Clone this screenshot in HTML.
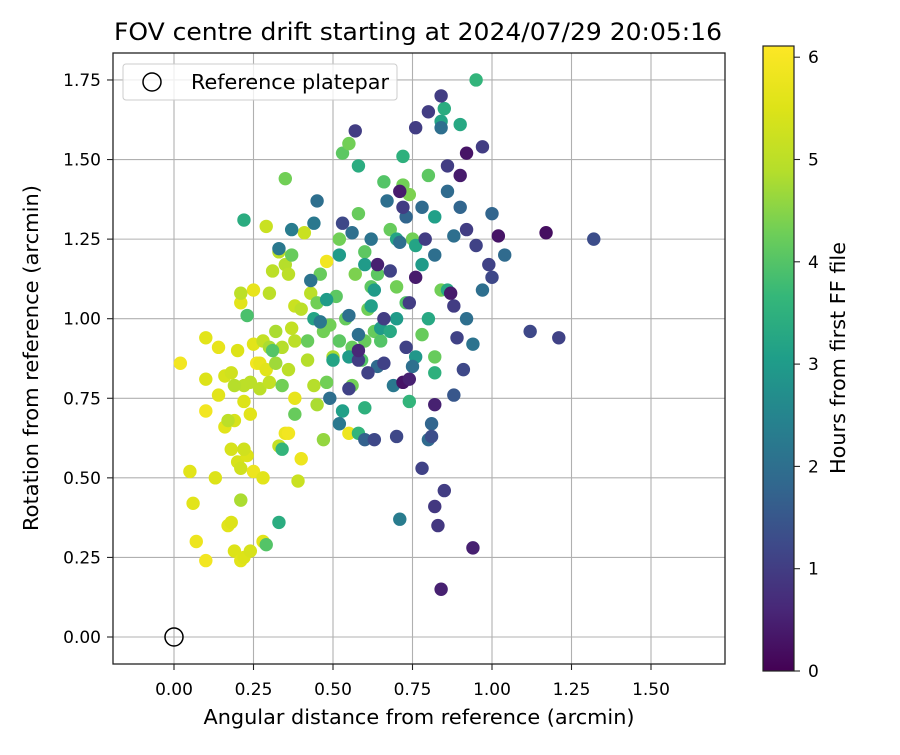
<!DOCTYPE html>
<html><head><meta charset="utf-8">
<style>
body{margin:0;background:#fff;}
svg text{font-family:"DejaVu Sans","Liberation Sans",sans-serif;fill:#000;}
</style></head>
<body>
<svg id="chart" width="900" height="750" viewBox="0 0 900 750" xmlns="http://www.w3.org/2000/svg">
<defs>
<linearGradient id="vir" x1="0" y1="1" x2="0" y2="0">
<stop offset="0" stop-color="#440154"/><stop offset="0.1" stop-color="#482878"/><stop offset="0.2" stop-color="#3e4989"/><stop offset="0.3" stop-color="#31688e"/><stop offset="0.4" stop-color="#26828e"/><stop offset="0.5" stop-color="#1f9e89"/><stop offset="0.6" stop-color="#35b779"/><stop offset="0.7" stop-color="#6ece58"/><stop offset="0.8" stop-color="#b5de2b"/><stop offset="0.9" stop-color="#dde318"/><stop offset="1" stop-color="#fde725"/>
</linearGradient>
<clipPath id="pc"><rect x="113" y="53" width="612" height="611"/></clipPath>
</defs>
<text x="418" y="40" font-size="24" text-anchor="middle" textLength="608" lengthAdjust="spacingAndGlyphs">FOV centre drift starting at 2024/07/29 20:05:16</text>
<g id="grid"></g>
<g id="pts" clip-path="url(#pc)"></g>
<rect x="113" y="53" width="612" height="611" fill="none" stroke="#222" stroke-width="1.3"/>
<g id="ticks"></g>
<text x="419" y="724" font-size="20" text-anchor="middle" textLength="431" lengthAdjust="spacingAndGlyphs">Angular distance from reference (arcmin)</text>
<text transform="translate(38,358) rotate(-90)" font-size="20" text-anchor="middle" textLength="346" lengthAdjust="spacingAndGlyphs">Rotation from reference (arcmin)</text>
<g>
<rect x="123" y="64" width="274" height="36" rx="3" fill="#fff" fill-opacity="0.8" stroke="#ccc"/>
<circle cx="152" cy="82" r="9" fill="none" stroke="#000" stroke-width="1.5"/>
<text x="191" y="89" font-size="20" textLength="198" lengthAdjust="spacingAndGlyphs">Reference platepar</text>
</g>
<rect x="763" y="46" width="31" height="625" fill="url(#vir)" stroke="#222" stroke-width="1.2"/>
<g id="cticks"></g>
<text transform="translate(845,358) rotate(-90)" font-size="20" text-anchor="middle" textLength="232" lengthAdjust="spacingAndGlyphs">Hours from first FF file</text>
</svg>
<script>
const xTicks=[0,0.25,0.5,0.75,1.0,1.25,1.5];
const xTickLabels=["0.00","0.25","0.50","0.75","1.00","1.25","1.50"];
const yTicks=[0,0.25,0.5,0.75,1.0,1.25,1.5,1.75];
const yTickLabels=["0.00","0.25","0.50","0.75","1.00","1.25","1.50","1.75"];
const cTicks=[0,1,2,3,4,5,6];
const ptX=[0.02,0.07,0.10,0.10,0.06,0.05,0.10,0.13,0.10,0.14,0.16,0.17,0.18,0.19,0.21,0.22,0.24,0.28,0.20,0.21,0.23,0.25,0.28,0.26,0.27,0.24,0.22,0.20,0.25,0.21,0.25,0.18,0.19,0.22,0.29,0.35,0.36,0.40,0.38,0.48,0.55,0.16,0.18,0.14,
0.21,0.24,0.22,0.19,0.17,0.21,0.27,0.28,0.30,0.33,0.29,0.31,0.30,0.32,0.34,0.36,0.37,0.38,0.41,0.42,0.44,0.45,0.47,0.50,0.43,0.35,0.36,0.33,0.38,0.39,0.40,0.32,0.30,
0.35,0.37,0.31,0.34,0.29,0.23,0.38,0.42,0.45,0.46,0.47,0.48,0.51,0.52,0.53,0.55,0.54,0.56,0.57,0.58,0.60,0.61,0.62,0.63,0.64,0.66,0.68,0.70,0.72,0.73,0.74,0.75,0.78,0.80,0.82,0.84,0.60,0.65,0.49,0.52,0.56,0.59,
0.33,0.34,0.50,0.53,0.55,0.58,0.60,0.62,0.65,0.68,0.70,0.72,0.74,0.76,0.78,0.80,0.82,0.84,0.85,0.90,0.95,0.58,0.44,0.48,0.52,0.22,0.60,0.63,0.76,0.82,0.70,0.86,
0.33,0.37,0.44,0.45,0.43,0.46,0.49,0.52,0.55,0.58,0.62,0.64,0.67,0.69,0.71,0.71,0.73,0.75,0.78,0.80,0.81,0.82,0.84,0.86,0.88,0.90,0.92,0.94,0.97,1.00,1.04,0.88,0.60,0.56,
0.57,0.53,0.55,0.58,0.61,0.63,0.66,0.68,0.70,0.72,0.74,0.76,0.78,0.80,0.82,0.83,0.85,0.86,0.88,0.89,0.91,0.92,0.95,0.97,0.99,1.00,1.12,1.21,1.32,0.84,0.79,0.73,0.81,0.66,
0.84,0.94,0.72,0.82,0.87,0.92,1.02,1.17,0.76,0.71,0.64,0.58,0.90,0.74];
const ptY=[0.86,0.30,0.24,0.71,0.42,0.52,0.81,0.50,0.94,0.91,0.66,0.35,0.36,0.27,0.24,0.25,0.27,0.30,0.55,0.53,0.57,0.52,0.50,0.86,0.86,0.70,0.74,0.90,0.92,1.05,1.09,0.59,0.68,0.59,0.84,0.64,0.64,0.56,0.75,1.18,0.64,0.82,0.83,0.76,
1.08,0.80,0.79,0.79,0.68,0.43,0.78,0.93,0.80,0.60,1.29,1.15,1.08,0.96,0.91,0.84,0.97,1.04,1.27,0.87,0.79,0.73,0.62,0.88,1.08,1.17,1.14,1.21,0.93,0.49,1.03,0.86,0.91,
1.44,1.20,0.90,0.79,0.29,1.01,0.70,0.93,1.05,1.14,0.96,0.80,1.07,1.25,1.52,1.55,1.00,0.79,1.14,1.33,0.93,1.03,1.10,0.96,1.14,1.43,1.28,1.10,1.42,1.05,1.39,1.25,0.95,1.45,0.88,1.09,1.21,0.93,0.98,0.93,0.91,0.87,
0.36,0.59,0.87,0.71,0.88,1.48,1.17,1.04,0.97,0.96,1.25,1.51,0.74,1.23,1.17,1.00,1.32,1.62,1.66,1.61,1.75,0.64,1.00,1.06,1.20,1.31,0.72,1.09,0.88,0.83,1.00,1.09,
1.22,1.28,1.30,1.37,1.12,0.99,0.75,0.67,1.01,0.95,1.25,0.85,1.37,0.79,0.37,1.24,1.32,0.85,1.35,0.62,0.67,1.20,1.60,1.40,1.26,1.35,1.00,0.92,1.09,1.33,1.20,0.76,0.62,1.27,
1.59,1.30,0.78,0.87,0.83,0.62,1.00,1.15,0.63,1.35,1.05,1.60,0.53,1.65,0.41,0.35,0.46,1.48,1.04,0.94,0.84,1.28,1.23,1.54,1.17,1.13,0.96,0.94,1.25,1.70,1.25,0.91,0.63,0.86,
0.15,0.28,0.80,0.73,1.08,1.52,1.26,1.27,1.13,1.40,1.17,0.90,1.45,0.81];
const ptHours=[5.9,5.8,5.9,5.9,5.6,5.6,5.5,5.5,5.6,5.7,5.6,5.6,5.5,5.5,5.6,5.5,5.4,5.6,5.4,5.3,5.5,5.8,5.6,5.9,5.7,5.6,5.5,5.5,5.6,5.6,5.7,5.4,5.4,5.3,5.6,5.8,5.9,5.8,5.7,5.9,5.8,5.4,5.3,5.6,
5.0,5.0,5.0,4.9,5.0,4.8,5.0,5.1,5.1,5.1,5.2,5.0,5.0,4.8,4.9,5.0,5.1,5.2,5.2,4.9,4.9,4.8,4.6,4.8,5.0,4.9,5.0,5.0,5.0,5.2,5.0,4.7,4.8,
4.3,4.2,4.0,4.3,4.0,3.9,4.2,4.2,4.3,4.2,4.3,4.3,4.1,4.3,4.1,4.3,4.2,4.3,4.4,4.2,4.2,4.3,4.1,4.2,4.1,4.0,4.2,4.3,4.3,4.0,4.4,4.3,4.2,4.1,4.2,4.3,4.1,4.0,4.3,4.1,4.2,4.0,
3.4,3.6,3.2,3.1,3.0,3.4,3.0,3.1,3.0,3.3,3.2,3.5,3.6,3.2,3.0,3.3,3.1,3.2,3.4,3.3,3.6,3.6,3.2,3.0,3.0,3.4,3.5,3.0,2.9,3.5,3.0,3.3,
2.2,2.3,2.2,2.0,2.1,2.2,2.0,2.2,2.0,2.0,2.1,1.9,2.0,2.2,2.3,2.0,1.8,2.0,1.9,1.9,1.8,2.0,2.0,1.9,2.0,1.8,2.0,2.1,2.0,1.8,1.9,1.5,1.7,2.0,
1.0,1.2,1.1,1.0,1.1,1.2,1.0,1.1,1.2,1.0,1.0,1.0,1.1,1.0,0.9,0.9,1.0,1.0,1.0,1.1,1.2,1.0,1.1,1.0,1.1,1.2,1.2,1.1,1.3,1.0,1.0,1.1,1.3,1.1,
0.5,0.5,0.3,0.5,0.4,0.3,0.3,0.2,0.4,0.4,0.5,0.6,0.4,0.5];

const NS="http://www.w3.org/2000/svg";
const X=v=>174+v*318, Y=v=>637-v*318.3, C=v=>671-v*102.3;
const vs=[[68,1,84],[72,40,120],[62,73,137],[49,104,142],[38,130,142],[31,158,137],[53,183,121],[110,206,88],[181,222,43],[221,227,24],[253,231,37]];
function viridis(t){t=Math.max(0,Math.min(1,t))*10;const i=Math.min(9,Math.floor(t)),f=t-i;const a=vs[i],b=vs[i+1];return`rgb(${[0,1,2].map(k=>Math.round(a[k]+(b[k]-a[k])*f)).join(',')})`;}
function mk(tag,attrs,parent){const e=document.createElementNS(NS,tag);for(const k in attrs)e.setAttribute(k,attrs[k]);parent.appendChild(e);return e;}
const grid=document.getElementById('grid'),ticks=document.getElementById('ticks'),pts=document.getElementById('pts'),ct=document.getElementById('cticks');
xTicks.forEach((v,i)=>{
 const g=mk('line',{x1:X(v),x2:X(v),y1:53,y2:664,stroke:'#b0b0b0','stroke-width':1.1},grid);
 
 
 const t=mk('line',{x1:X(v),x2:X(v),y1:664,y2:670,stroke:'#222','stroke-width':1.1},ticks);
 
 
 const l=mk('text',{x:X(v),y:695,'font-size':17,'text-anchor':'middle'},ticks);l.textContent=xTickLabels[i];
 
 
});
yTicks.forEach((v,i)=>{
 const g=mk('line',{x1:113,x2:725,y1:Y(v),y2:Y(v),stroke:'#b0b0b0','stroke-width':1.1},grid);
 
 
 const t=mk('line',{x1:107,x2:113,y1:Y(v),y2:Y(v),stroke:'#222','stroke-width':1.1},ticks);
 
 
 const l=mk('text',{x:101,y:Y(v)+6,'font-size':17,'text-anchor':'end'},ticks);l.textContent=yTickLabels[i];
 
 
});
cTicks.forEach(v=>{
 const t=mk('line',{x1:794,x2:800,y1:C(v),y2:C(v),stroke:'#222','stroke-width':1.1},ct);
 
 
 const l=mk('text',{x:808,y:C(v)+6,'font-size':17},ct);l.textContent=String(v);
 
 
});
ptX.forEach((x,i)=>{
 const c=mk('circle',{cx:X(x),cy:Y(ptY[i]),r:6.7,fill:viridis(ptHours[i]/6.11)},pts);
 
 
});
const ref=mk('circle',{cx:X(0),cy:Y(0),r:9,fill:'none',stroke:'#000','stroke-width':1.5},pts);


</script>
</body></html>
